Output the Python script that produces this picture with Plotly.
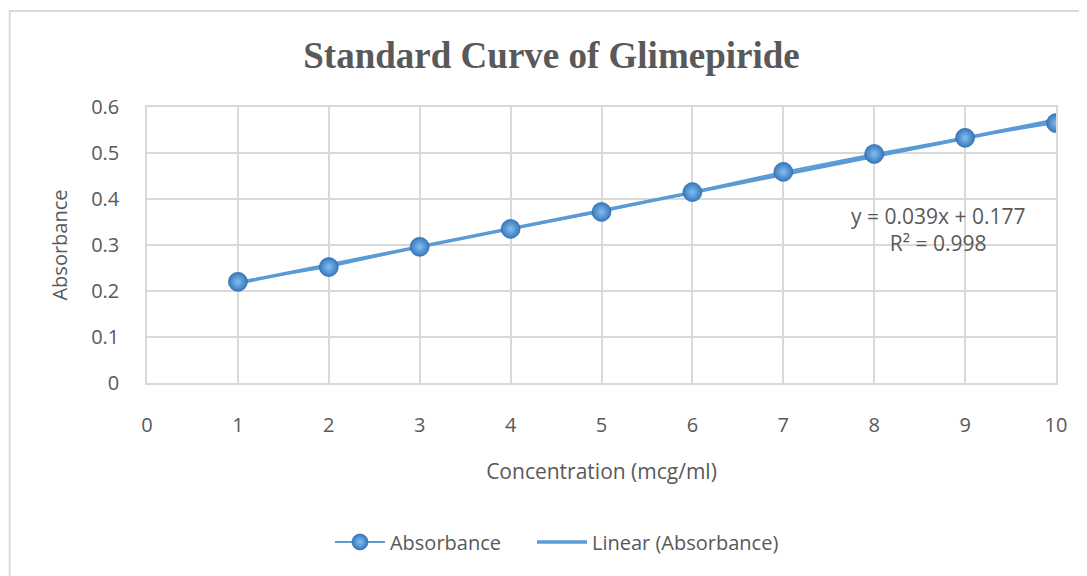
import numpy as np
import plotly.graph_objects as go

concentration = [1, 2, 3, 4, 5, 6, 7, 8, 9, 10]
absorbance = [0.220, 0.252, 0.296, 0.335, 0.372, 0.415, 0.459, 0.498, 0.533, 0.565]

x_ticks = [0, 1, 2, 3, 4, 5, 6, 7, 8, 9, 10]
y_ticks = [0, 0.1, 0.2, 0.3, 0.4, 0.5, 0.6]

text_color = '#595959'
grid_color = '#d9d9d9'
blue = '#5B9BD5'

# linear trendline from the data
slope, intercept = np.polyfit(concentration, absorbance, 1)
trend = [slope * c + intercept for c in concentration]

fig = go.Figure()
fig.add_trace(go.Scatter(
    x=concentration, y=trend, mode='lines', name='Linear (Absorbance)',
    line=dict(color=blue, width=3.5)
))
fig.add_trace(go.Scatter(
    x=concentration, y=absorbance, mode='lines+markers',
    name='Absorbance' + '\u00a0' * 5,
    line=dict(color=blue, width=2),
    marker=dict(size=19, color='#3479C0',
                gradient=dict(type='radial', color='#86BDEE'),
                line=dict(color='#2A5F96', width=0.6))
))

fig.add_annotation(
    x=8.7, y=0.333, xref='x', yref='y', showarrow=False,
    text='y = 0.039x + 0.177<br>R² = 0.998',
    font=dict(size=21, color=text_color, family='Open Sans')
)

# outer chart border
fig.add_shape(type='rect', xref='paper', yref='paper',
              x0=-0.151, x1=1.05, y0=-0.8, y1=1.348,
              line=dict(color=grid_color, width=2), layer='below')

fig.update_layout(
    width=1087, height=576,
    margin=dict(l=139, r=39, t=99, b=201),
    paper_bgcolor='white', plot_bgcolor='white',
    font=dict(family='Open Sans', size=20, color=text_color),
    title=dict(text='<b>Standard Curve of Glimepiride</b>', x=0.5, xanchor='center',
               xref='container', y=0.918, yanchor='middle',
               font=dict(family='Liberation Serif', size=37, color=text_color)),
    legend=dict(orientation='h', x=0.451, xanchor='center', y=-0.576, yanchor='middle',
                traceorder='reversed', font=dict(size=20, color=text_color),
                itemwidth=50),
    showlegend=True,
)
fig.update_xaxes(range=[0, 10], tickvals=x_ticks, showgrid=True, gridcolor=grid_color,
                 gridwidth=1.5, zeroline=False, showline=True, linecolor=grid_color,
                 linewidth=1.5, mirror=True, ticks='', ticklabelstandoff=23,
                 title=dict(text='Concentration (mcg/ml)', standoff=28,
                            font=dict(size=21, color=text_color)))
fig.update_yaxes(range=[0, 0.6], tickvals=y_ticks, showgrid=True, gridcolor=grid_color,
                 gridwidth=1.5, zeroline=False, showline=True, linecolor=grid_color,
                 linewidth=1.5, mirror=True, ticks='', ticklabelstandoff=22,
                 title=dict(text='Absorbance', standoff=18,
                            font=dict(size=20, color=text_color)))

fig.write_html("out.html")
